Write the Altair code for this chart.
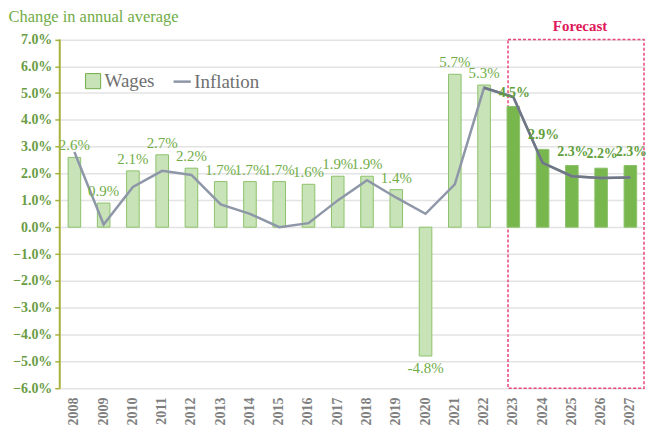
import altair as alt
import pandas as pd

years = [str(y) for y in range(2008, 2028)]
wages = [2.6, 0.9, 2.1, 2.7, 2.2, 1.7, 1.7, 1.7, 1.6, 1.9, 1.9, 1.4, -4.8, 5.7, 5.3, 4.5, 2.9, 2.3, 2.2, 2.3]
inflation = [2.8, 0.1, 1.5, 2.1, 1.95, 0.85, 0.5, 0.0, 0.15, 1.0, 1.75, 1.1, 0.5, 1.6, 5.2, 4.85, 2.4, 1.9, 1.83, 1.85]
kind = ["Wages"] * 15 + ["Forecast"] * 5
y_ticks = [7, 6, 5, 4, 3, 2, 1, 0, -1, -2, -3, -4, -5, -6]

df = pd.DataFrame({"year": years, "wages": [w / 100 for w in wages],
                   "inflation": [v / 100 for v in inflation], "kind": kind,
                   "series": "Inflation"})
df["label"] = [f"{w:.1f}%" for w in wages]

FONT = "Liberation Serif"
GREEN = "#70AD47"
OLIVE = "#a8b13c"
W, H = 588, 372
YTOP = 0.078

xscale = alt.Scale(domain=years, paddingInner=0.57, paddingOuter=0.285)
xaxis = alt.Axis(labelAngle=-90, labelFont=FONT, labelFontSize=14,
                 labelFontWeight="bold", labelColor="#7f7f7f",
                 domain=False, ticks=False, labelPadding=9, grid=False)
yscale = alt.Scale(domain=[-0.06, YTOP], nice=False, zero=False)
yaxis = alt.Axis(values=[v / 100 for v in y_ticks], format=".1%", labelOverlap=False,
                 labelFont=FONT, labelFontSize=14, labelFontWeight="bold",
                 labelColor="#6a9c45", domain=False,
                 tickColor=OLIVE, tickSize=5, tickWidth=1.5,
                 gridColor="#e3e3e3", gridWidth=1.5, labelPadding=3)


def X(**kw):
    return alt.X("year:N", title=None, scale=xscale, axis=xaxis, **kw)


def Y(field):
    return alt.Y(field, title=None, scale=yscale, axis=yaxis)


base = alt.Chart(df)

bars = base.mark_bar(strokeWidth=1).encode(
    x=X(), y=Y("wages:Q"),
    fill=alt.Fill("kind:N", scale=alt.Scale(domain=["Wages", "Forecast"], range=["#C9E3B8", "#77B74E"]),
                  legend=alt.Legend(values=["Wages"], title=None, orient="none", legendX=24, legendY=54,
                                    symbolType="square", symbolSize=230, symbolStrokeColor=GREEN,
                                    symbolStrokeWidth=1, labelFont=FONT, labelFontSize=19,
                                    labelColor="#6f6f6f", labelOffset=2)),
    stroke=alt.value("#8cc26c"),
)

line = base.mark_line(strokeWidth=2.5).encode(
    x=X(), y=Y("inflation:Q"),
    stroke=alt.Stroke("series:N", scale=alt.Scale(domain=["Inflation"], range=["#8e97a8"]),
                      legend=alt.Legend(title=None, orient="none", legendX=113, legendY=54,
                                        symbolType="stroke", symbolStrokeWidth=2.5, symbolSize=300,
                                        symbolStrokeColor="#8e97a8",
                                        labelFont=FONT, labelFontSize=19, labelColor="#6f6f6f",
                                        labelOffset=2)),
)
line_fc = base.transform_filter("toNumber(datum.year) >= 2022").mark_line(
    strokeWidth=2.5, color="#6f7685").encode(x=X(), y=Y("inflation:Q"))

pos_hist = base.transform_filter("datum.wages >= 0 && datum.kind == 'Wages'").mark_text(
    baseline="bottom", dy=-4, font=FONT, fontSize=15, color=GREEN).encode(
    x=X(), y=Y("wages:Q"), text="label:N")
neg_hist = base.transform_filter("datum.wages < 0").mark_text(
    baseline="top", dy=5, font=FONT, fontSize=15, color=GREEN).encode(
    x=X(), y=Y("wages:Q"), text="label:N")
fc_labels = base.transform_filter("datum.kind == 'Forecast'").mark_text(
    baseline="bottom", dy=-7, dx=1, font=FONT, fontSize=14, fontWeight="bold", color="#5f9e3c").encode(
    x=X(), y=Y("wages:Q"), text="label:N")

# y-axis domain line (from -6% to 7%)
axis_df = pd.DataFrame({"top": [0.07], "bottom": [-0.06]})
axis_line = alt.Chart(axis_df).mark_rule(color=OLIVE, strokeWidth=2).encode(
    x=alt.value(0), y=Y("top:Q"), y2="bottom:Q")

box_df = pd.DataFrame({"year": ["2023"], "top": [0.07], "bottom": [-0.06],
                       "ttop": [YTOP], "txt": ["Forecast"]})
box = alt.Chart(box_df).mark_rect(fillOpacity=0, stroke="#e8457a", strokeWidth=1.5,
                                   strokeDash=[3, 2], xOffset=1).encode(
    x=X(bandPosition=0), x2=alt.value(W - 1),
    y=Y("top:Q"), y2="bottom:Q")
fc_text = alt.Chart(box_df).mark_text(font=FONT, fontSize=15, fontWeight="bold",
                                      color="#e0185a", dx=67, baseline="top", dy=1).encode(
    x=X(), y=Y("ttop:Q"), text="txt:N")

chart = alt.layer(box, bars, line, line_fc, pos_hist, neg_hist, fc_labels, fc_text, axis_line).properties(
    width=W, height=H, padding=0,
    title=alt.TitleParams("Change in annual average", anchor="start", frame="bounds",
                          font=FONT, fontSize=16.5, fontWeight="normal", color=GREEN,
                          offset=-8, dx=-4),
).configure_view(stroke=None).configure_axisY(labelOverlap=False).resolve_scale(
    fill="independent", stroke="independent")

chart.save("out.html", embed_options={"renderer": "svg", "actions": False})
